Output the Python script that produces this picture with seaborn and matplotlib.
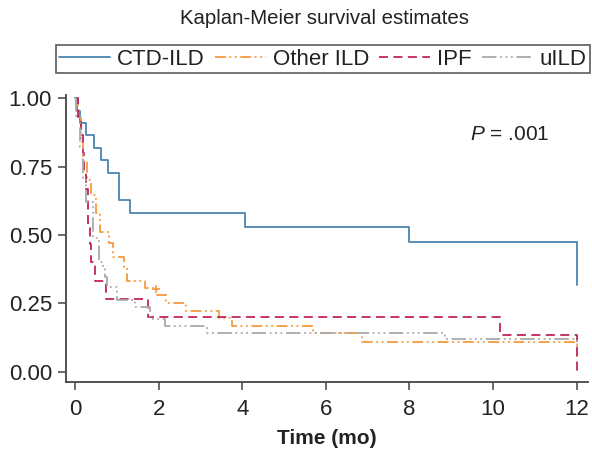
import matplotlib
matplotlib.use("Agg")
import matplotlib.pyplot as plt
import seaborn as sns
import pandas as pd

sns.set_style("ticks")
plt.rcParams['font.family'] = ['Liberation Sans', 'DejaVu Sans']
plt.rcParams['mathtext.fontset'] = 'custom'
plt.rcParams['mathtext.it'] = 'Liberation Sans:italic'
plt.rcParams['mathtext.rm'] = 'Liberation Sans'

# ---- data (step start times in months, survival after step) ----
ctd_t = [0.0, 0.05, 0.11, 0.26, 0.46, 0.62, 0.78, 1.05, 1.32, 4.06, 8.0, 12.0]
ctd_s = [1.0, 0.955, 0.909, 0.864, 0.819, 0.773, 0.727, 0.627, 0.58, 0.531, 0.476, 0.318]

oth_t = [0.0, 0.08, 0.14, 0.20, 0.28, 0.39, 0.51, 0.59, 0.81, 0.91, 1.18, 1.24,
         1.67, 1.95, 2.18, 2.66, 3.45, 3.75, 5.70, 6.86, 12.0]
oth_s = [1.0, 0.93, 0.84, 0.77, 0.70, 0.645, 0.58, 0.51, 0.47, 0.42, 0.38, 0.333,
         0.305, 0.28, 0.25, 0.223, 0.195, 0.167, 0.14, 0.108, 0.055]
oth_cens_t = [1.94]
oth_cens_s = [0.303]

ipf_t = [0.0, 0.08, 0.15, 0.18, 0.22, 0.27, 0.30, 0.32, 0.36, 0.39, 0.47, 0.73, 1.75, 10.17, 12.0]
ipf_s = [1.0, 0.933, 0.867, 0.80, 0.733, 0.667, 0.60, 0.533, 0.467, 0.40, 0.333, 0.267, 0.20, 0.133, 0.0]

uild_t = [0.0, 0.03, 0.11, 0.19, 0.27, 0.43, 0.57, 0.68, 0.72, 0.77, 1.0, 1.44, 1.8, 2.15, 3.15, 8.85, 12.0]
uild_s = [1.0, 0.93, 0.82, 0.70, 0.62, 0.49, 0.40, 0.378, 0.345, 0.31, 0.262, 0.238, 0.193, 0.167, 0.143, 0.12, 0.09]

groups = ["CTD-ILD", "Other ILD", "IPF", "uILD"]
xticks = [0, 2, 4, 6, 8, 10, 12]
yticks = [0.0, 0.25, 0.5, 0.75, 1.0]

series = {
    "CTD-ILD": (ctd_t, ctd_s),
    "Other ILD": (oth_t, oth_s),
    "IPF": (ipf_t, ipf_s),
    "uILD": (uild_t, uild_s),
}
colors = {"CTD-ILD": "#4a86b1", "Other ILD": "#f69a3a", "IPF": "#c2235c", "uILD": "#a9a9a9"}
dashes = {"CTD-ILD": None, "Other ILD": (6, 2, 1, 2, 1, 2), "IPF": (5, 3), "uILD": (8, 2, 1, 2, 1, 2, 1, 2)}

fig = plt.figure(figsize=(5.92, 4.51), dpi=100)
ax = fig.add_axes([66/592, 69/451, 522/592, 287/451])

for g in groups:
    t, s = series[g]
    df = pd.DataFrame({"t": t, "s": s})
    sns.lineplot(data=df, x="t", y="s", ax=ax, color=colors[g], lw=1.3,
                 drawstyle="steps-post", estimator=None, sort=False, label=g)
    line = ax.get_lines()[-1]
    if dashes[g] is not None:
        line.set_dashes(dashes[g])

handles = ax.get_lines()[:4]

sns.scatterplot(x=oth_cens_t, y=oth_cens_s, ax=ax, marker="+", s=40,
                color=colors["Other ILD"], linewidth=1.2, legend=False)

if ax.get_legend() is not None:
    ax.get_legend().remove()

ax.set_xlim(-0.215, 12.27)
ax.set_ylim(-0.0377, 1.012)
ax.set_xticks(xticks)
ax.set_xticklabels([str(v) for v in xticks])
ax.set_yticks(yticks)
ax.set_yticklabels([f"{v:.2f}" for v in yticks])
ax.tick_params(axis="both", labelsize=16, length=6, width=1.1, color="#444444", labelcolor="#222222", pad=4)
ax.tick_params(axis="x", pad=6)
for sp in ["top", "right"]:
    ax.spines[sp].set_visible(False)
for sp in ["left", "bottom"]:
    ax.spines[sp].set_color("#444444")
    ax.spines[sp].set_linewidth(1.3)
ax.set_xlabel("Time (mo)", fontsize=15, fontweight="bold", color="#222222", labelpad=7)
ax.set_ylabel("")

ax.text(9.45, 0.866, r"$\it{P}$ = .001", fontsize=15, ha="left", va="center", color="#222222")

fig.text(325/592, 1 - 18/451, "Kaplan-Meier survival estimates", fontsize=14.7,
         ha="center", va="center", color="#222222")

leg = fig.legend(handles, groups, loc="lower left",
                 bbox_to_anchor=(56/592, 1 - 73/451, 534/592, 30/451),
                 mode="expand", ncol=4, fontsize=16, frameon=True, fancybox=False,
                 handlelength=2.3, handletextpad=0.3, columnspacing=0.3,
                 borderpad=0.15, borderaxespad=0)
leg.get_frame().set_edgecolor("#333333")
leg.get_frame().set_linewidth(1.2)
for txt in leg.get_texts():
    txt.set_color("#222222")

fig.savefig("out.png", dpi=100)
